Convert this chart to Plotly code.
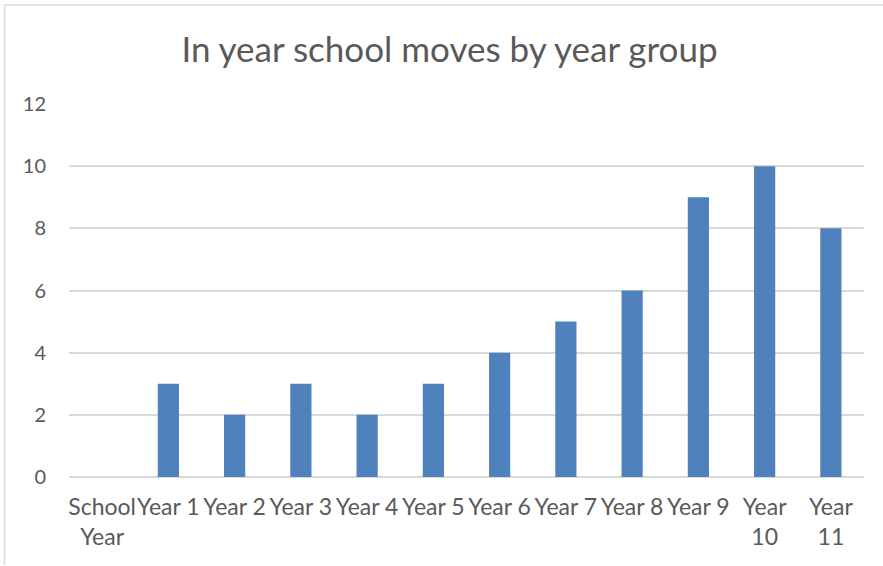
import plotly.graph_objects as go

categories = ["School<br>Year", "Year 1", "Year 2", "Year 3", "Year 4", "Year 5",
              "Year 6", "Year 7", "Year 8", "Year 9", "Year<br>10", "Year<br>11"]
moves = [0, 3, 2, 3, 2, 3, 4, 5, 6, 9, 10, 8]
y_ticks = [0, 2, 4, 6, 8, 10, 12]

W, H = 883, 566
L, R, T, B = 69, 19, 104, 89
pw, ph = W - L - R, H - T - B


def px_x(p):
    return (p - L) / pw


def px_y(p):
    return (H - B - p) / ph


fig = go.Figure(go.Bar(x=categories, y=moves, marker=dict(color="#4F81BD", line=dict(width=0)),
                       hoverinfo="x+y"))

font_family = "Lato, Carlito, Calibri, sans-serif"
fig.update_layout(
    width=W, height=H,
    margin=dict(l=L, r=R, t=T, b=B, autoexpand=False),
    paper_bgcolor="white", plot_bgcolor="white",
    font=dict(family=font_family, color="#595959", size=18),
    bargap=0.68,
    showlegend=False,
    title=dict(text="In year school moves by year group", x=449.5 / W, xref="container",
               y=1 - 50 / H, yref="container", yanchor="middle", xanchor="center",
               font=dict(size=35, color="#595959", family=font_family)),
    xaxis=dict(showgrid=False, showline=False, ticks="", tickfont=dict(size=23),
               ticklabelstandoff=14, tickangle=0),
    yaxis=dict(range=[0, 12], tickvals=y_ticks, showgrid=True, gridcolor="#D9D9D9",
               gridwidth=1.5, zeroline=True, zerolinecolor="#D9D9D9", zerolinewidth=1.5,
               showline=False, ticks="", tickfont=dict(size=20), ticklabelstandoff=22),
    shapes=[
        dict(type="line", xref="paper", yref="paper",
             x0=px_x(4.5), x1=px_x(W + 5), y0=px_y(5), y1=px_y(5),
             line=dict(color="#D9D9D9", width=1.5)),
        dict(type="line", xref="paper", yref="paper",
             x0=px_x(4.5), x1=px_x(4.5), y0=px_y(5), y1=px_y(565),
             line=dict(color="#D9D9D9", width=1.5)),
    ],
)

fig.write_html("out.html")
